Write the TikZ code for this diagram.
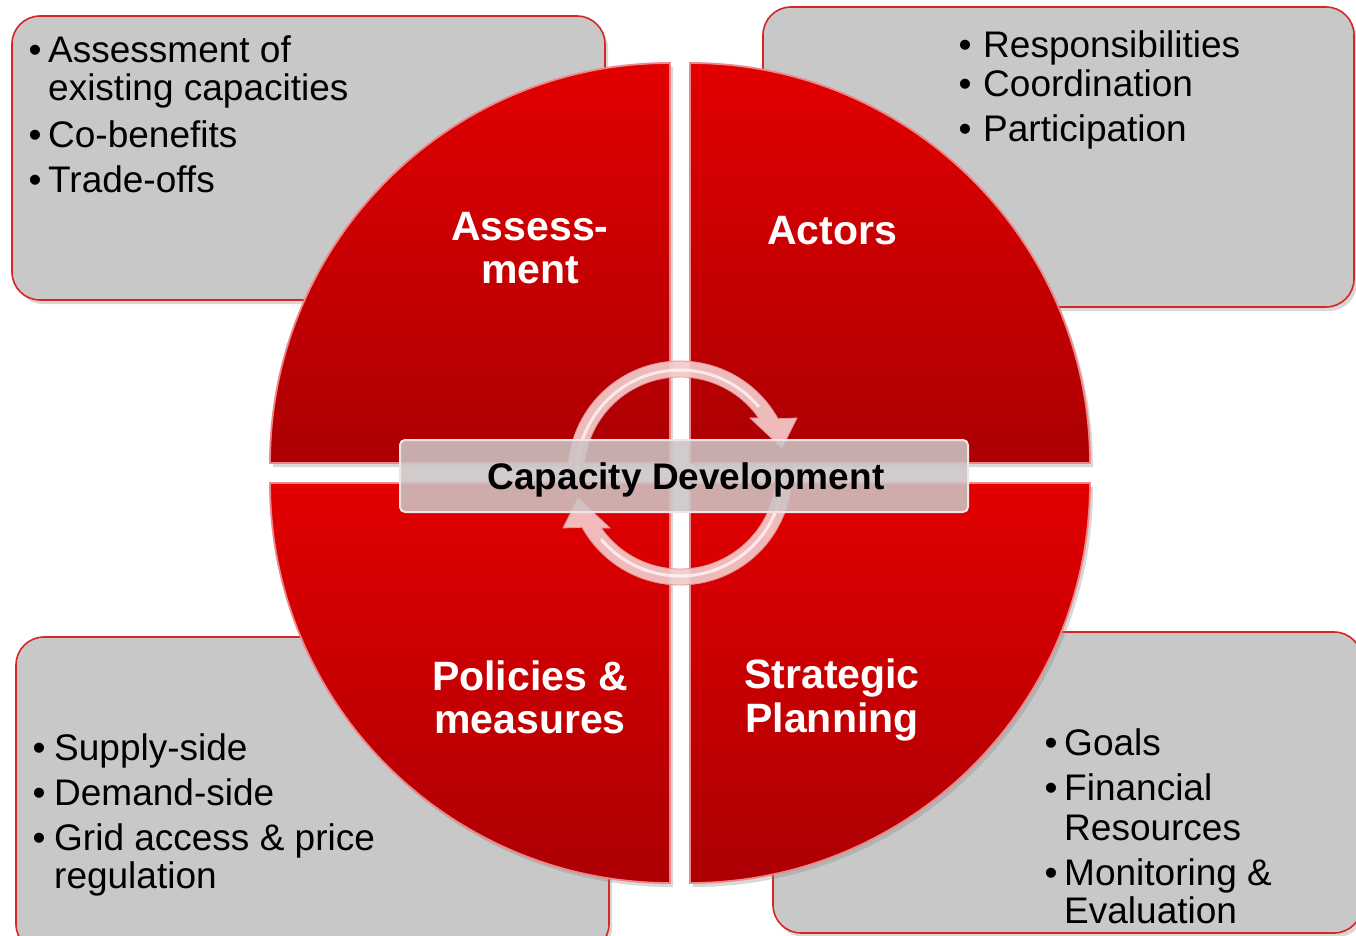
\documentclass[tikz,border=0pt]{standalone}
\usepackage{fontspec}
\setmainfont{Liberation Sans}
\usetikzlibrary{calc,shadows}
\definecolor{boxgray}{RGB}{200,200,200}
\definecolor{boxred}{RGB}{214,38,38}
\definecolor{qtop}{RGB}{226,0,0}
\definecolor{qbot}{RGB}{172,0,4}
\definecolor{qedge}{RGB}{238,135,135}
\definecolor{cgray}{RGB}{204,196,196}
\definecolor{arrowpink}{RGB}{244,202,202}
\definecolor{arrowedge}{RGB}{226,150,150}
\begin{document}
\begin{tikzpicture}[x=1pt,y=-1pt,
  infobox/.style={fill=boxgray, draw=boxred, line width=1.6pt, rounded corners=28pt,
    drop shadow={shadow xshift=3pt, shadow yshift=-4pt, opacity=0.3}},
  quad/.style={top color=qtop, bottom color=qbot, draw=qedge, line width=1.8pt,
    drop shadow={shadow xshift=3pt, shadow yshift=-4pt, opacity=0.3}},
  cyclearrow/.style={fill=arrowpink, draw=arrowedge, line width=0.8pt, fill opacity=0.92},
  cbox/.style={fill=cgray, fill opacity=0.88, draw={rgb,255:red,242;green,228;blue,228}, line width=2pt, rounded corners=5pt},
  boxtext/.style={font=\fontsize{37}{40}\selectfont, text=black, inner sep=0pt, anchor=base west},
  bul/.style={font=\fontsize{37}{40}\selectfont, text=black, inner sep=0pt, anchor=base},
  qlabel/.style={font=\fontsize{41}{43}\selectfont\bfseries, text=white, inner sep=0pt, anchor=base},
  ctext/.style={font=\fontsize{37}{40}\selectfont\bfseries, text=black, inner sep=0pt, anchor=base}
]
\useasboundingbox (0,0) rectangle (1356,936);
\clip (0,0) rectangle (1356,936);
\fill[white] (0,0) rectangle (1356,936);

% info boxes
\path[infobox] (12,16) rectangle (605,300);
\path[infobox] (763,7) rectangle (1354,307);
\path[infobox] (16,637) rectangle (609,952);
\path[infobox] (773,632) rectangle (1362,933);

% quadrants
\path[quad] (670,463) -- (270,463) arc[start angle=180, end angle=270, radius=400] -- cycle;
\path[quad] (690,463) -- (690,63) arc[start angle=270, end angle=360, radius=400] -- cycle;
\path[quad] (670,483) -- (270,483) arc[start angle=180, end angle=90, radius=400] -- cycle;
\path[quad] (690,483) -- (1090,483) arc[start angle=0, end angle=90, radius=400] -- cycle;

% cycle arrows
\coordinate (C) at (680,473);
\path[cyclearrow] ($(C)+(-185:112)$) arc[start angle=-185, end angle=-29, radius=112]
  -- (797,418) -- (782,448) -- (750,418) -- ($(C)+(-35:96)$)
  arc[start angle=-35, end angle=-185, radius=96] -- cycle;
\path[cyclearrow] ($(C)+(-5:112)$) arc[start angle=-5, end angle=151, radius=112]
  -- (563,528) -- (578,498) -- (610,528) -- ($(C)+(145:96)$)
  arc[start angle=145, end angle=-5, radius=96] -- cycle;
\draw[white, opacity=0.7, line width=3pt] ($(C)+(-182:103)$) arc[start angle=-182, end angle=-40, radius=103];
\draw[white, opacity=0.7, line width=3pt] ($(C)+(-2:103)$) arc[start angle=-2, end angle=140, radius=103];

% centre bar
\path[cbox] (400,440) rectangle (968,512);
\node[ctext] (cd) at (686,489) {Capacity Development};

% quadrant labels
\node[qlabel] (qa1) at (530,240) {Assess-};
\node[qlabel] (qa2) at (530,283) {ment};
\node[qlabel] (qb1) at (832,244) {Actors};
\node[qlabel] (qc1) at (530,690) {Policies \&};
\node[qlabel] (qc2) at (530,733) {measures};
\node[qlabel] (qd1) at (832,688) {Strategic};
\node[qlabel] (qd2) at (832,732) {Planning};

% top-left box text
\node[bul] (b11) at (35,63) {•};
\node[boxtext] (t11) at (48,63) {Assessment of};
\node[boxtext] (t12) at (48,101) {existing capacities};
\node[bul] (b12) at (35,148) {•};
\node[boxtext] (t13) at (48,148) {Co-benefits};
\node[bul] (b13) at (35,193) {•};
\node[boxtext] (t14) at (48,193) {Trade-offs};

% top-right box text
\node[bul] (b21) at (965,58) {•};
\node[boxtext] (t21) at (983,58) {Responsibilities};
\node[bul] (b22) at (965,97) {•};
\node[boxtext] (t22) at (983,97) {Coordination};
\node[bul] (b23) at (965,142) {•};
\node[boxtext] (t23) at (983,142) {Participation};

% bottom-left box text
\node[bul] (b31) at (39,760) {•};
\node[boxtext] (t31) at (54,760) {Supply-side};
\node[bul] (b32) at (39,805) {•};
\node[boxtext] (t32) at (54,805) {Demand-side};
\node[bul] (b33) at (39,850) {•};
\node[boxtext] (t33) at (54,850) {Grid access \& price};
\node[boxtext] (t34) at (54,888) {regulation};

% bottom-right box text
\node[bul] (b41) at (1051,755) {•};
\node[boxtext] (t41) at (1064,755) {Goals};
\node[bul] (b42) at (1051,800) {•};
\node[boxtext] (t42) at (1064,800) {Financial};
\node[boxtext] (t43) at (1064,840) {Resources};
\node[bul] (b43) at (1051,885) {•};
\node[boxtext] (t44) at (1064,885) {Monitoring \&};
\node[boxtext] (t45) at (1064,923) {Evaluation};
\end{tikzpicture}
\end{document}
